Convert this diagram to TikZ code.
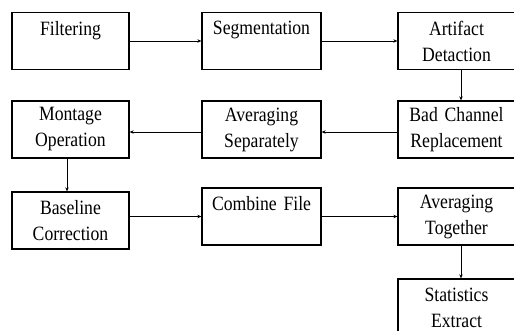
\documentclass[tikz,border=0pt]{standalone}
\usepackage{fontspec}
\setmainfont[FakeStretch=0.87]{Liberation Serif}
\usepackage{tikz}
\usetikzlibrary{positioning,arrows.meta}

\begin{document}
\begin{tikzpicture}[->,>={Stealth[length=4pt,width=3.5pt]},x=1pt,y=-1pt,line width=1pt]
  \tikzstyle{stage}=[draw,-,line width=1.3pt,minimum height=57pt,inner sep=0pt,align=center,
    font=\fontsize{20.3}{26}\selectfont]
  \tikzstyle{narrow}=[stage,minimum width=117pt,text width=112pt]
  \tikzstyle{wide}=[stage,minimum width=119pt,text width=114pt]

  \clip (0,0) rectangle (514,330);

  % first row
  \node[narrow] (filt) at (70.5,41) {Filtering\\ \mbox{}};
  \node[wide] (seg) at (261.5,41) {Segmentation\\ \mbox{}};
  \node[narrow] (art) at (456.5,41) {Artifact\\ Detaction};

  % second row
  \node[narrow] (mont) at (70.5,129.5) {Montage\\ Operation};
  \node[wide] (avgs) at (261.5,129.5) {Averaging\\ Separately};
  \node[narrow] (bad) at (456.5,129.5) {Bad Channel\\ Replacement};

  % third and fourth row
  \node[narrow] (base) at (70.5,220.5) {Baseline\\ Correction};
  \node[wide] (comb) at (261.5,216.5) {Combine File\\ \mbox{}};
  \node[narrow] (avgt) at (456.5,216.5) {Averaging\\ Together};
  \node[narrow] (stat) at (456.5,307.5) {Statistics\\ Extract};

  \draw (filt) -- (seg);
  \draw (seg) -- (art);
  \draw ([xshift=4.5pt]art.south) -- ([xshift=4.5pt]bad.north);
  \draw ([yshift=-2.5pt]bad.west) -- ([yshift=-2.5pt]avgs.east);
  \draw ([yshift=-2.5pt]avgs.west) -- ([yshift=-2.5pt]mont.east);
  \draw ([xshift=-3.5pt]mont.south) -- ([xshift=-3.5pt]base.north);
  \draw (base.east |- comb.west) -- (comb);
  \draw (comb) -- (avgt);
  \draw ([xshift=4.5pt]avgt.south) -- ([xshift=4.5pt]stat.north);
\end{tikzpicture}
\end{document}
